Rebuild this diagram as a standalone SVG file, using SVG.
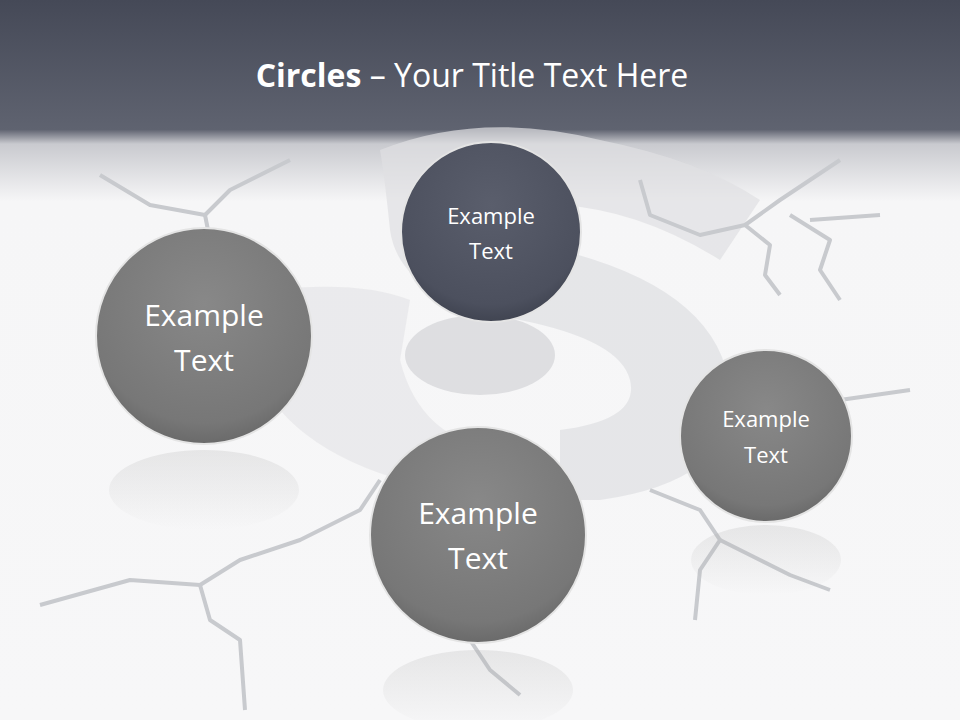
<svg xmlns="http://www.w3.org/2000/svg" width="960" height="720" viewBox="0 0 960 720">
<defs>
<linearGradient id="bg" x1="0" y1="0" x2="0" y2="1">
<stop offset="0" stop-color="#454957"/>
<stop offset="0.18" stop-color="#5f6370"/>
<stop offset="0.2" stop-color="#c9cacf"/>
<stop offset="0.28" stop-color="#f6f6f7"/>
<stop offset="1" stop-color="#f7f7f8"/>
</linearGradient>
<radialGradient id="gray" cx="0.5" cy="0.35" r="0.65">
<stop offset="0" stop-color="#888888"/>
<stop offset="0.85" stop-color="#777777"/>
<stop offset="1" stop-color="#6a6a6a"/>
</radialGradient>
<radialGradient id="dark" cx="0.5" cy="0.35" r="0.65">
<stop offset="0" stop-color="#5a5e6c"/>
<stop offset="0.85" stop-color="#4c505e"/>
<stop offset="1" stop-color="#404451"/>
</radialGradient>
<linearGradient id="refl" x1="0" y1="0" x2="0" y2="1">
<stop offset="0" stop-color="#aaa" stop-opacity="0.22"/>
<stop offset="1" stop-color="#aaa" stop-opacity="0"/>
</linearGradient>
<style>
.crack{fill:none;stroke:#c8cace;stroke-width:4;stroke-linejoin:round}
.ring{stroke:#e4e4e4;stroke-width:2}
.t{font-family:"Open Sans","Liberation Sans",sans-serif;fill:#fff;text-anchor:middle}
</style>
</defs>
<rect width="960" height="720" fill="url(#bg)"/>
<g id="dollar" fill="#dfe0e3" opacity="0.7">
<path d="M380 150 Q480 110 600 140 Q700 160 760 200 L720 260 Q640 210 560 205 L560 250 Q720 290 730 390 Q740 480 600 500 L560 500 L560 430 Q640 420 630 380 Q620 340 520 320 Q400 300 390 230 Q385 180 380 150 Z"/>
<path d="M270 290 Q360 280 410 300 L400 360 Q420 440 500 450 L500 500 Q340 480 280 410 Z" opacity="0.7"/>
<ellipse cx="480" cy="355" rx="75" ry="40" fill="#d4d5d8"/>
</g>
<g id="cracks">
<polyline class="crack" points="100,175 150,205 205,215 230,190 290,160"/>
<polyline class="crack" points="205,215 210,240"/>
<polyline class="crack" points="640,180 650,215 700,235 745,225 780,200 810,180 840,160"/>
<polyline class="crack" points="745,225 770,245 765,275 780,295"/>
<polyline class="crack" points="790,215 830,240 820,270 840,300"/>
<polyline class="crack" points="810,220 880,215"/>
<polyline class="crack" points="840,400 910,390"/>
<polyline class="crack" points="650,490 700,510 720,540 700,570 695,620"/>
<polyline class="crack" points="720,540 760,560 790,575 830,590"/>
<polyline class="crack" points="40,605 130,580 200,585 240,560 300,540 360,510 380,480"/>
<polyline class="crack" points="200,585 210,620 240,640 245,710"/>
<polyline class="crack" points="470,640 490,670 520,695"/>
</g>
<g id="reflections">
<ellipse cx="204" cy="490" rx="95" ry="40" fill="url(#refl)"/>
<ellipse cx="478" cy="690" rx="95" ry="40" fill="url(#refl)"/>
<ellipse cx="766" cy="560" rx="75" ry="35" fill="url(#refl)"/>
</g>
<g id="header">
<text x="472" y="87" class="t" font-size="32"><tspan font-weight="bold">Circles</tspan> – Your Title Text Here</text>
</g>
<g id="node-top">
<circle cx="491" cy="232" r="90" fill="url(#dark)" class="ring"/>
<text class="t" font-size="22" x="491" y="224">Example</text>
<text class="t" font-size="22" x="491" y="259">Text</text>
</g>
<g id="node-left">
<circle cx="204" cy="336" r="108" fill="url(#gray)" class="ring"/>
<text class="t" font-size="30" x="204" y="326">Example</text>
<text class="t" font-size="30" x="204" y="371">Text</text>
</g>
<g id="node-bottom">
<circle cx="478" cy="535" r="108" fill="url(#gray)" class="ring"/>
<text class="t" font-size="30" x="478" y="524">Example</text>
<text class="t" font-size="30" x="478" y="569">Text</text>
</g>
<g id="node-right">
<circle cx="766" cy="436" r="86" fill="url(#gray)" class="ring"/>
<text class="t" font-size="22" x="766" y="427">Example</text>
<text class="t" font-size="22" x="766" y="463">Text</text>
</g>
</svg>
